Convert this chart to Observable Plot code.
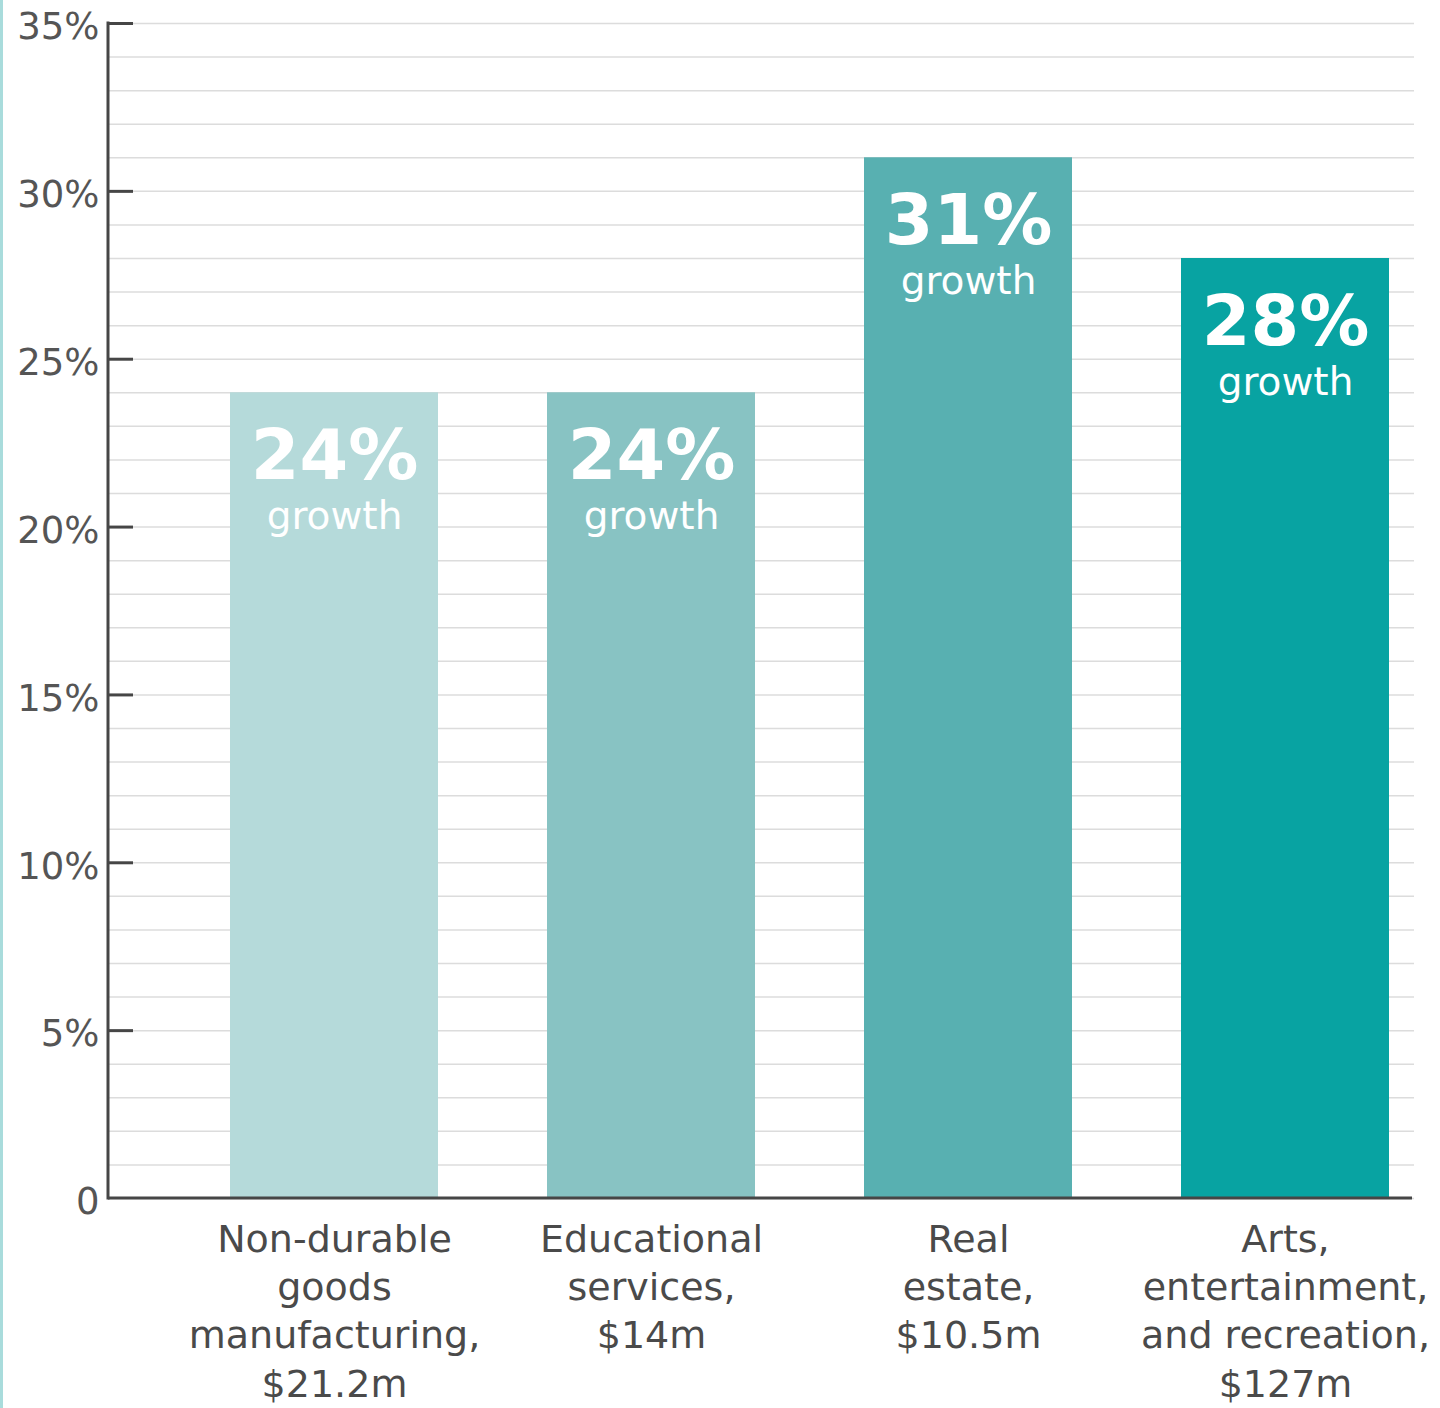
<!DOCTYPE html>
<html>
<head>
<meta charset="utf-8">
<script src="https://cdn.jsdelivr.net/npm/d3@7"></script>
<script src="https://cdn.jsdelivr.net/npm/@observablehq/plot@0.6"></script>
<style>
  html, body { margin: 0; padding: 0; background: #fff; }
  #wrap { position: relative; width: 1440px; height: 1408px; overflow: hidden; }
  #strip { position: absolute; left: 0; top: 0; width: 3px; height: 1408px; background: #a9dcdc; }
  #chart { position: absolute; left: 0; top: 0; }
</style>
</head>
<body>
<div id="wrap"><div id="strip"></div><div id="chart"></div></div>
<script>
const categories = [
  "Non-durable\ngoods\nmanufacturing,\n$21.2m",
  "Educational\nservices,\n$14m",
  "Real\nestate,\n$10.5m",
  "Arts,\nentertainment,\nand recreation,\n$127m"
];
const growth = [24, 24, 31, 28];
const majorTicks = [0, 5, 10, 15, 20, 25, 30, 35];
const minorTicks = d3.range(0, 36, 1);
const palette = ["#b5dada", "#88c3c3", "#58b0b1", "#08a3a2"];

const data = categories.map((c, i) => ({category: c, value: growth[i]}));
const font = "DejaVu Sans";

const axisLines = (index, scales, values, dimensions) => {
  const g = d3.create("svg:g");
  const x0 = dimensions.marginLeft;
  const x1 = dimensions.width - dimensions.marginRight - 2;
  const yTop = scales.y(35), yBot = scales.y(0);
  g.append("line").attr("x1", x0).attr("x2", x0).attr("y1", yTop - 1.5).attr("y2", yBot + 1.5)
    .attr("stroke", "#464646").attr("stroke-width", 3);
  g.append("line").attr("x1", x0).attr("x2", x1).attr("y1", yBot).attr("y2", yBot)
    .attr("stroke", "#464646").attr("stroke-width", 3);
  return g.node();
};

const chart = Plot.plot({
  width: 1440,
  height: 1408,
  marginLeft: 108,
  marginRight: 26,
  marginTop: 23,
  marginBottom: 210,
  style: {fontFamily: font, background: "transparent"},
  x: {type: "band", domain: categories, range: [230, 1389], paddingInner: 0.344, paddingOuter: 0, axis: null},
  y: {domain: [0, 35], axis: null},
  color: {domain: categories, range: palette},
  marks: [
    Plot.ruleY(minorTicks, {stroke: "#dcdcdc", strokeWidth: 1.5}),
    Plot.barY(data, {x: "category", y: "value", fill: "category"}),
    Plot.ruleY(majorTicks.filter(d => d > 0), {stroke: "#464646", strokeWidth: 3, insetRight: 1281}),
    Plot.axisY(majorTicks, {
      label: null, tickSize: 0, tickPadding: 9, fontSize: 37, fill: "#555", dy: 4,
      tickFormat: d => d === 0 ? "0" : d + "%"
    }),
    Plot.text(data, {
      x: "category", y: "value", text: d => d.value + "%",
      lineAnchor: "bottom", dy: 86, fill: "white", fontSize: 70, fontWeight: "bold"
    }),
    Plot.text(data, {
      x: "category", y: "value", text: () => "growth",
      lineAnchor: "bottom", dy: 136, fill: "white", fontSize: 39
    }),
    Plot.text(data, {
      x: "category", y: () => 0, text: "category",
      lineAnchor: "top", dy: 19, lineHeight: 1.27, fill: "#4a4a4a", fontSize: 38
    }),
    axisLines
  ]
});
document.getElementById("chart").appendChild(chart);
</script>
</body>
</html>
